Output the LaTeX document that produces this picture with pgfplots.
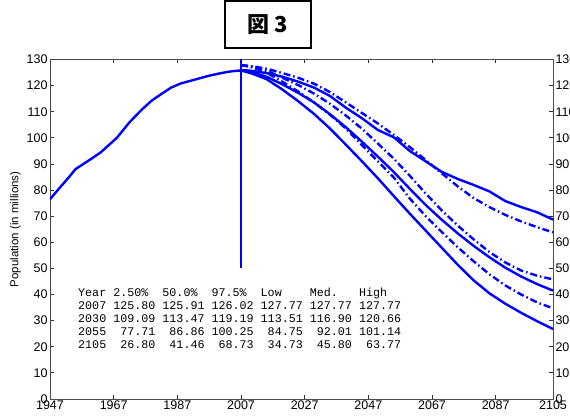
\documentclass[border=0pt]{standalone}
\usepackage{fontspec}
\setmainfont{Liberation Sans}
\newfontfamily\mono{Liberation Mono}
\newfontfamily\jp{Noto Sans CJK JP}
\usepackage{pgfplots}
\pgfplotsset{compat=1.18}
\usetikzlibrary{calc}

\begin{document}
\begin{tikzpicture}
  \begin{axis}[
    name=ax,
    scale only axis,
    width=503pt, height=339.5pt,
    xmin=1947, xmax=2105, ymin=0, ymax=130,
    xtick={1947,1967,1987,2007,2027,2047,2067,2087,2105},
    ytick={0,10,...,130},
    /pgf/number format/1000 sep={},
    /pgf/number format/assume math mode=true,
    tick label style={font=\fontsize{12.5}{13}\selectfont},
    yticklabel style={xshift=1pt},
    xticklabel style={yshift=1.5pt},
    tick align=inside,
    major tick length=4pt,
    axis line style={black!70, line width=0.9pt},
    tick style={black!80, line width=0.8pt},
    ylabel={Population (in millions)},
    every axis y label/.style={at={(axis description cs:-0.069,0.5)}, rotate=90,
      anchor=center, font=\fontsize{11.5}{12}\selectfont},
    clip=true,
  ]
    % observed
    \addplot[blue, line width=2.4pt] coordinates {
      (1947,76.5) (1950,80.8) (1953,85.0) (1955,88.0) (1960,92.0) (1963,94.5)
      (1966,97.8) (1968,100.0) (1970,103.0) (1972,106.0) (1974,108.5) (1976,111.0)
      (1979,114.3) (1982,116.8) (1985,119.2) (1988,120.8) (1991,121.8) (1994,122.8)
      (1997,123.8) (2000,124.6) (2003,125.3) (2005,125.6) (2007,125.8)};
    % vertical marker at 2007
    \addplot[blue, line width=1.3pt] coordinates {(2007,50) (2007,130)};
    % 97.5%
    \addplot[blue, line width=2.4pt] coordinates {
      (2007,126.0) (2010,125.7) (2015,124.8) (2020,123.4) (2025,121.5) (2030,119.2)
      (2035,116.0) (2040,111.5) (2045,107.5) (2050,103.0) (2055,100.2) (2060,95.0)
      (2065,91.0) (2070,87.0) (2075,84.3) (2080,82.0) (2085,79.5) (2090,75.8)
      (2095,73.5) (2100,71.5) (2105,68.7)};
    % 50%
    \addplot[blue, line width=2.4pt] coordinates {
      (2007,125.9) (2010,125.3) (2015,123.4) (2020,120.5) (2025,117.2) (2030,113.5)
      (2035,109.0) (2040,104.0) (2045,98.5) (2050,92.8) (2055,86.9) (2060,80.5)
      (2065,74.3) (2070,68.7) (2075,63.5) (2080,58.7) (2085,54.3) (2090,50.3)
      (2095,46.9) (2100,44.0) (2105,41.5)};
    % 2.5%
    \addplot[blue, line width=2.4pt] coordinates {
      (2007,125.8) (2010,124.8) (2015,122.5) (2020,118.5) (2025,114.0) (2030,109.1)
      (2035,103.5) (2040,97.3) (2045,91.0) (2050,84.5) (2055,77.7) (2060,71.0)
      (2065,64.5) (2070,58.0) (2075,51.5) (2080,45.5) (2085,40.5) (2090,36.5)
      (2095,33.0) (2100,29.8) (2105,26.8)};
    % High
    \addplot[blue, line width=2.4pt, dash pattern=on 7pt off 3pt on 1.5pt off 3pt] coordinates {
      (2007,127.8) (2010,127.5) (2015,126.5) (2020,124.8) (2025,123.0) (2030,120.7)
      (2035,117.5) (2040,113.5) (2045,109.5) (2050,105.5) (2055,101.1) (2060,96.5)
      (2065,91.5) (2070,86.5) (2075,81.5) (2080,77.0) (2085,73.5) (2090,70.5)
      (2095,68.0) (2100,65.8) (2105,63.8)};
    % Med.
    \addplot[blue, line width=2.4pt, dash pattern=on 7pt off 3pt on 1.5pt off 3pt] coordinates {
      (2007,127.8) (2010,127.4) (2015,125.8) (2020,123.0) (2025,120.2) (2030,116.9)
      (2035,113.0) (2040,108.5) (2045,103.5) (2050,97.8) (2055,92.0) (2060,85.5)
      (2065,78.7) (2070,72.3) (2075,66.5) (2080,61.2) (2085,56.3) (2090,52.3)
      (2095,49.2) (2100,47.2) (2105,45.8)};
    % Low
    \addplot[blue, line width=2.4pt, dash pattern=on 7pt off 3pt on 1.5pt off 3pt] coordinates {
      (2007,127.8) (2010,127.2) (2015,125.0) (2020,121.5) (2025,117.7) (2030,113.5)
      (2035,108.8) (2040,103.5) (2045,97.2) (2050,91.0) (2055,84.8) (2060,76.8)
      (2065,70.0) (2070,64.0) (2075,58.2) (2080,52.8) (2085,47.8) (2090,43.5)
      (2095,40.0) (2100,37.0) (2105,34.7)};
  \end{axis}
  % right-hand tick labels
  \begin{axis}[
    scale only axis,
    width=503pt, height=339.5pt,
    xmin=1947, xmax=2105, ymin=0, ymax=130,
    xtick=\empty,
    ytick={0,10,...,130},
    yticklabel pos=right,
    /pgf/number format/assume math mode=true,
    tick label style={font=\fontsize{12.5}{13}\selectfont},
    yticklabel style={xshift=-1pt},
    major tick length=0pt,
    axis line style={draw=none},
  ]
  \end{axis}
  \begin{scope}[shift={(ax.south west)}]
    \node[anchor=north west, inner sep=0pt, align=left,
          font=\mono\fontsize{11.7}{13}\selectfont] at (28pt,111pt)
      {Year~2.50\%~~50.0\%~~97.5\%~~Low~~~~Med.~~~High\\
       2007~125.80~125.91~126.02~127.77~127.77~127.77\\
       2030~109.09~113.47~119.19~113.51~116.90~120.66\\
       2055~~77.71~~86.86~100.25~~84.75~~92.01~101.14\\
       2105~~26.80~~41.46~~68.73~~34.73~~45.80~~63.77};
    \node[draw, line width=1.2pt, minimum width=86pt, minimum height=47pt,
          inner sep=0pt, font=\jp\bfseries\fontsize{22}{22}\selectfont]
      at (218pt,374.5pt) {図 3};
    \pgfresetboundingbox
    \path[use as bounding box] (-50pt,-21pt) rectangle ++(570pt,420pt);
  \end{scope}
\end{tikzpicture}
\end{document}
